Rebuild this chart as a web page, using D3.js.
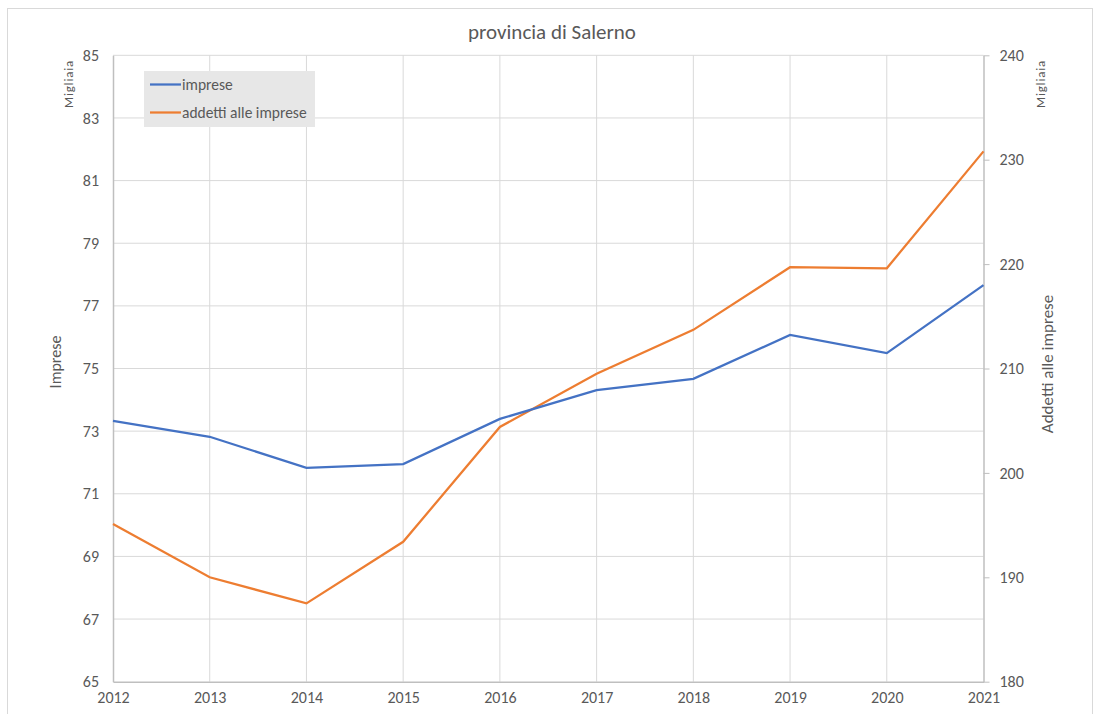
<!DOCTYPE html>
<html>
<head>
<meta charset="utf-8">
<script src="https://cdn.jsdelivr.net/npm/d3@7"></script>
<style>
  body { margin: 0; background: #fff; }
  text { font-family: Calibri, Carlito, "Open Sans", sans-serif; fill: #595959; }
</style>
</head>
<body>
<div class="chart"></div>
<script>
// data
var years = [2012, 2013, 2014, 2015, 2016, 2017, 2018, 2019, 2020, 2021];
var imprese = [73.33, 72.82, 71.83, 71.95, 73.39, 74.31, 74.67, 76.07, 75.49, 77.66];
var addetti = [195.1, 190.0, 187.5, 193.4, 204.4, 209.5, 213.7, 219.7, 219.6, 230.8];
var leftTicks = [65, 67, 69, 71, 73, 75, 77, 79, 81, 83, 85];
var rightTicks = [180, 190, 200, 210, 220, 230, 240];

var width = 1093, height = 714;
var plotLeft = 113, plotRight = 983.5, plotTop = 55.3, plotBottom = 681.7;

var svg = d3.select(".chart")
    .append("svg")
    .attr("width", width)
    .attr("height", height);

// outer chart border
svg.append("rect")
    .attr("x", 7.5).attr("y", 8.5)
    .attr("width", 1085).attr("height", 710)
    .attr("fill", "none")
    .attr("stroke", "#d9d9d9");

var x = d3.scaleLinear().domain([2012, 2021]).range([plotLeft, plotRight]);
var yL = d3.scaleLinear().domain([65, 85]).range([plotBottom, plotTop]);
var yR = d3.scaleLinear().domain([180, 240]).range([plotBottom, plotTop]);

// gridlines
svg.append("g")
    .selectAll("line")
    .data(leftTicks.slice(1))
    .enter()
    .append("line")
    .attr("x1", plotLeft).attr("x2", plotRight)
    .attr("y1", function (d) { return yL(d) })
    .attr("y2", function (d) { return yL(d) })
    .attr("stroke", "#d9d9d9")
    .attr("stroke-width", 1);

svg.append("g")
    .selectAll("line")
    .data(years.slice(1, -1))
    .enter()
    .append("line")
    .attr("y1", plotTop).attr("y2", plotBottom)
    .attr("x1", function (d) { return x(d) })
    .attr("x2", function (d) { return x(d) })
    .attr("stroke", "#d9d9d9")
    .attr("stroke-width", 1);

// left axis
var gL = svg.append("g")
    .attr("transform", "translate(" + plotLeft + ",0)")
    .call(d3.axisLeft(yL).tickValues(leftTicks).tickSize(0).tickPadding(14));
gL.select(".domain").attr("stroke", "#bfbfbf").attr("stroke-width", 1.5);
gL.selectAll("text").style("font-size", "16px").attr("fill", "#595959");

// right axis
var gR = svg.append("g")
    .attr("transform", "translate(" + plotRight + ",0)")
    .call(d3.axisRight(yR).tickValues(rightTicks).tickSizeInner(6).tickSizeOuter(0).tickPadding(10));
gR.select(".domain").attr("stroke", "#bfbfbf").attr("stroke-width", 1.5);
gR.selectAll("line").attr("stroke", "#bfbfbf");
gR.selectAll("text").style("font-size", "16px").attr("fill", "#595959");

// bottom axis
var gB = svg.append("g")
    .attr("transform", "translate(0," + plotBottom + ")")
    .call(d3.axisBottom(x).tickValues(years).tickFormat(d3.format("d")).tickSize(0).tickPadding(10));
gB.select(".domain").attr("stroke", "#bfbfbf").attr("stroke-width", 1.5);
gB.selectAll("text").style("font-size", "16px").attr("fill", "#595959");

// lines
var lineL = d3.line()
    .x(function (d, i) { return x(years[i]) })
    .y(function (d) { return yL(d) });
var lineR = d3.line()
    .x(function (d, i) { return x(years[i]) })
    .y(function (d) { return yR(d) });

svg.append("path")
    .datum(addetti)
    .attr("d", lineR)
    .attr("fill", "none")
    .attr("stroke", "#ED7D31")
    .attr("stroke-width", 2.25);

svg.append("path")
    .datum(imprese)
    .attr("d", lineL)
    .attr("fill", "none")
    .attr("stroke", "#4472C4")
    .attr("stroke-width", 2.25);

// title
svg.append("text")
    .attr("x", 552).attr("y", 39)
    .attr("text-anchor", "middle")
    .style("font-size", "21px")
    .text("provincia di Salerno");

// axis titles
svg.append("text")
    .attr("transform", "translate(73,84) rotate(-90)")
    .attr("text-anchor", "middle")
    .style("font-size", "13px")
    .style("letter-spacing", "0.8px")
    .text("Migliaia");
svg.append("text")
    .attr("transform", "translate(1045,84) rotate(-90)")
    .attr("text-anchor", "middle")
    .style("font-size", "13px")
    .style("letter-spacing", "0.8px")
    .text("Migliaia");
svg.append("text")
    .attr("transform", "translate(61,362) rotate(-90)")
    .attr("text-anchor", "middle")
    .style("font-size", "16px")
    .text("Imprese");
svg.append("text")
    .attr("transform", "translate(1053,364) rotate(-90)")
    .attr("text-anchor", "middle")
    .style("font-size", "17px")
    .text("Addetti  alle imprese");

// legend
var legend = svg.append("g");
legend.append("rect")
    .attr("x", 144).attr("y", 71)
    .attr("width", 171).attr("height", 56)
    .attr("fill", "#e7e7e7");

var legendItems = [
    { name: "imprese", color: "#4472C4" },
    { name: "addetti alle imprese", color: "#ED7D31" }
];
legend.selectAll("line")
    .data(legendItems)
    .enter()
    .append("line")
    .attr("x1", 150).attr("x2", 181)
    .attr("y1", function (d, i) { return 84.5 + i * 28 })
    .attr("y2", function (d, i) { return 84.5 + i * 28 })
    .attr("stroke", function (d) { return d.color })
    .attr("stroke-width", 2.25);
legend.selectAll("text")
    .data(legendItems)
    .enter()
    .append("text")
    .attr("x", 182)
    .attr("y", function (d, i) { return 90 + i * 28 })
    .style("font-size", "15.5px")
    .text(function (d) { return d.name });
</script>
</body>
</html>
